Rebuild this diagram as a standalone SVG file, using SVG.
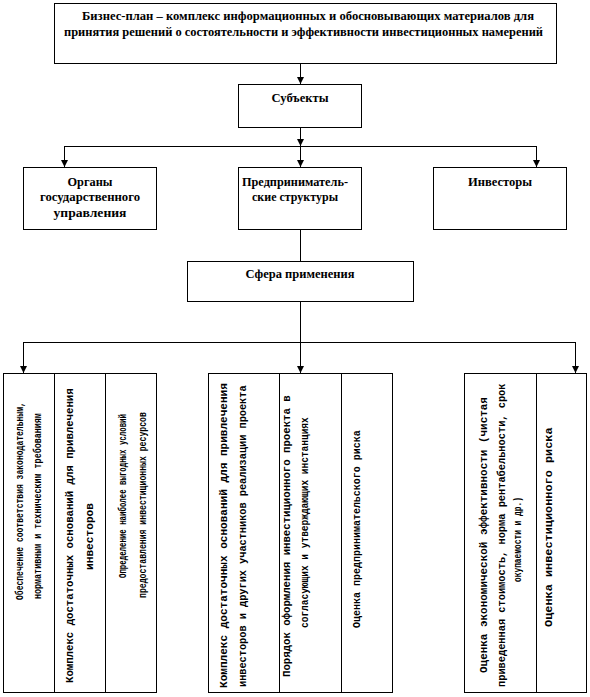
<svg xmlns="http://www.w3.org/2000/svg" width="590" height="697" viewBox="0 0 590 697">
<style>
  .box { fill: #fff; stroke: #000; stroke-width: 1; }
  .div { stroke: #000; stroke-width: 1; fill: none; }
  .con { stroke: #000; stroke-width: 1; fill: none; }
  .t { font-family: "Liberation Serif", "DejaVu Serif", "Times New Roman", serif; font-weight: bold; font-size: 12px; fill: #000; }
  .c { text-anchor: middle; }
  .v { font-family: "Liberation Mono", "DejaVu Sans Mono", "Courier New", monospace; font-weight: bold; font-size: 11px; fill: #000; }
</style>
<defs>
  <marker id="arr" viewBox="0 0 10 10" refX="10" refY="5" markerWidth="7" markerHeight="7" orient="auto" markerUnits="userSpaceOnUse">
    <path d="M0,0 L10,5 L0,10 z" fill="#000"/>
  </marker>
</defs>
<rect width="590" height="697" fill="#fff"/>

<g id="connectors">
  <path class="con" d="M300.5,64 V84" marker-end="url(#arr)"/>
  <path class="con" d="M300.5,127 V146" marker-end="url(#arr)"/>
  <path class="con" d="M64.5,146.5 H536.5"/>
  <path class="con" d="M64.5,146 V167" marker-end="url(#arr)"/>
  <path class="con" d="M300.5,146 V167" marker-end="url(#arr)"/>
  <path class="con" d="M536.5,146 V167" marker-end="url(#arr)"/>
  <path class="con" d="M300.5,229 V261"/>
  <path class="con" d="M300.5,301 V342"/>
  <path class="con" d="M23.5,342.5 H575.5"/>
  <path class="con" d="M23.5,342 V373" marker-end="url(#arr)"/>
  <path class="con" d="M300.5,342 V373" marker-end="url(#arr)"/>
  <path class="con" d="M575.5,342 V373" marker-end="url(#arr)"/>
</g>

<g id="node-plan">
  <rect class="box" x="54.5" y="3.5" width="502" height="60"/>
  <text class="t" x="82" y="20" textLength="452" lengthAdjust="spacingAndGlyphs">Бизнес-план – комплекс информационных и обосновывающих материалов для</text>
  <text class="t" x="64" y="36" textLength="479" lengthAdjust="spacingAndGlyphs">принятия решений о состоятельности и эффективности инвестиционных намерений</text>
</g>

<g id="node-subjects">
  <rect class="box" x="238.5" y="84.5" width="123" height="43"/>
  <text class="t c" x="300" y="102" textLength="57" lengthAdjust="spacingAndGlyphs">Субъекты</text>
</g>

<g id="node-gov">
  <rect class="box" x="23.5" y="167.5" width="133" height="62"/>
  <text class="t c" x="90" y="186" textLength="45" lengthAdjust="spacingAndGlyphs">Органы</text>
  <text class="t c" x="90" y="201" textLength="100" lengthAdjust="spacingAndGlyphs">государственного</text>
  <text class="t c" x="90" y="217" textLength="73" lengthAdjust="spacingAndGlyphs">управления</text>
</g>

<g id="node-business">
  <rect class="box" x="238.5" y="167.5" width="123" height="62"/>
  <text class="t c" x="295" y="186" textLength="106" lengthAdjust="spacingAndGlyphs">Предприниматель-</text>
  <text class="t c" x="295" y="201" textLength="86" lengthAdjust="spacingAndGlyphs">ские структуры</text>
</g>

<g id="node-investors">
  <rect class="box" x="433.5" y="167.5" width="133" height="62"/>
  <text class="t c" x="500" y="186" textLength="64" lengthAdjust="spacingAndGlyphs">Инвесторы</text>
</g>

<g id="node-sphere">
  <rect class="box" x="187.5" y="261.5" width="226" height="40"/>
  <text class="t c" x="300" y="278" textLength="109" lengthAdjust="spacingAndGlyphs">Сфера применения</text>
</g>

<g id="node-group1">
  <rect class="box" x="3.5" y="373.5" width="153" height="319"/>
  <path class="div" d="M54.5,373.5 V692.5 M105.5,373.5 V692.5"/>
  <text class="v" transform="translate(23,600) rotate(-90) scale(0.732,1)">Обеспечение соответствия законодательным,</text>
  <text class="v" transform="translate(41,599) rotate(-90) scale(0.762,1)">нормативным и техническим требованиям</text>
  <text class="v" transform="translate(73,683) rotate(-90) scale(0.972,1)">Комплекс достаточных оснований для привлечения</text>
  <text class="v" transform="translate(93,570) rotate(-90) scale(1.015,1)">инвесторов</text>
  <text class="v" transform="translate(126,578) rotate(-90) scale(0.672,1)">Определение наиболее выгодных условий</text>
  <text class="v" transform="translate(146,598) rotate(-90) scale(0.742,1)">предоставления инвестиционных ресурсов</text>
</g>

<g id="node-group2">
  <rect class="box" x="208.5" y="373.5" width="184" height="319"/>
  <path class="div" d="M279.5,373.5 V692.5 M341.5,373.5 V692.5"/>
  <text class="v" transform="translate(227,688) rotate(-90) scale(1.005,1)">Комплекс достаточных оснований для привлечения</text>
  <text class="v" transform="translate(246,687) rotate(-90) scale(0.934,1)">инвесторов и других участников реализации проекта</text>
  <text class="v" transform="translate(290,677) rotate(-90) scale(0.971,1)">Порядок оформления инвестиционного проекта в</text>
  <text class="v" transform="translate(308,628) rotate(-90) scale(0.864,1)">согласующих и утверждающих инстанциях</text>
  <text class="v" transform="translate(360,628) rotate(-90) scale(0.909,1)">Оценка предпринимательского риска</text>
</g>

<g id="node-group3">
  <rect class="box" x="464.5" y="373.5" width="122" height="319"/>
  <path class="div" d="M536.5,373.5 V692.5"/>
  <text class="v" transform="translate(487,673) rotate(-90) scale(0.996,1)">Оценка экономической эффективности (чистая</text>
  <text class="v" transform="translate(505,687) rotate(-90) scale(0.94,1)">приведенная стоимость, норма рентабельности, срок</text>
  <text class="v" transform="translate(521,582) rotate(-90) scale(0.716,1)">окупаемости и др.)</text>
  <text class="v" transform="translate(552,627) rotate(-90) scale(1.082,1)">Оценка инвестиционного риска</text>
</g>
</svg>
